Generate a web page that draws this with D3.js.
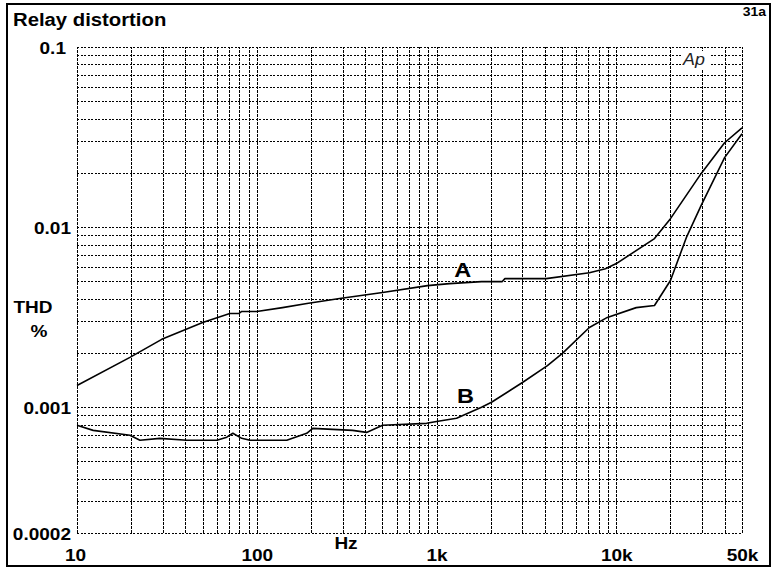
<!DOCTYPE html>
<html>
<head>
<meta charset="utf-8">
<script src="https://cdn.jsdelivr.net/npm/d3@7"></script>
<style>
  html, body { margin: 0; padding: 0; background: #fff; }
  svg { display: block; }
</style>
</head>
<body>
<svg id="chart" width="775" height="567"></svg>
<script>
// ---- data ----
const freqA = [10, 19.7, 29.6, 50, 70.8, 79.4, 82.5, 100, 139, 190, 289, 501, 891, 1180, 1780, 2320, 2400, 4070, 7080, 8700, 10000, 16300, 20000, 29600, 40000, 50000];
const thdA  = [0.00132, 0.00189, 0.00238, 0.00295, 0.00331, 0.00331, 0.0034, 0.0034, 0.00357, 0.00376, 0.00401, 0.00433, 0.00473, 0.00485, 0.00498, 0.00498, 0.00517, 0.00517, 0.00558, 0.00587, 0.00627, 0.00863, 0.01114, 0.0198, 0.0294, 0.0356];
const freqB = [10, 12.3, 19.7, 22.4, 28.9, 40.8, 60, 68.1, 73.6, 82.5, 91.6, 146.8, 189.6, 204.8, 341, 408, 501, 880, 1000, 1292, 1778, 2021, 3004, 4137, 5012, 7079, 8913, 12900, 16300, 20000, 24500, 29600, 40000, 50000];
const thdB  = [0.000793, 0.000743, 0.000698, 0.000655, 0.000671, 0.000655, 0.000655, 0.000681, 0.000716, 0.000671, 0.000655, 0.000655, 0.000716, 0.000762, 0.000743, 0.000724, 0.000793, 0.000813, 0.000833, 0.000867, 0.000998, 0.001064, 0.00137, 0.0017, 0.00199, 0.00277, 0.00315, 0.00357, 0.00367, 0.00505, 0.00873, 0.01315, 0.0243, 0.033];
const xTickValues = [10, 100, 1000, 10000, 50000];
const xTickLabels = ["10", "100", "1k", "10k", "50k"];
const yTickValues = [0.1, 0.01, 0.001, 0.0002];
const yTickLabels = ["0.1", "0.01", "0.001", "0.0002"];
const seriesNames = ["A", "B"];

// ---- layout ----
const L = 77, R = 742, T = 47, B = 533;
const svg = d3.select("#chart");
const FONT = "'Liberation Sans', Arial, Helvetica, sans-serif";
const SX = 1.12;

const x = d3.scaleLog().domain([10, 50000]).range([L, R]);
const y = d3.scaleLog().domain([0.0002, 0.1]).range([B, T]);

// outer frame
svg.append("rect").attr("x", 7).attr("y", 4).attr("width", 763).attr("height", 562)
  .attr("fill", "#fff").attr("stroke", "#000").attr("stroke-width", 2);

// grid values
const xGrid = [];
[10, 100, 1000, 10000].forEach(d => { for (let k = 1; k <= 9; k++) { const v = d * k; if (v <= 50000) xGrid.push(v); } });
xGrid.push(50000);
const yGrid = [];
[0.0001, 0.001, 0.01].forEach(d => { for (let k = 1; k <= 9; k++) { const v = +(d * k).toPrecision(3); if (v >= 0.0002) yGrid.push(v); } });
yGrid.push(0.1);

// horizontal grid via axis
const gy = svg.append("g").attr("transform", `translate(${L},0)`)
  .call(d3.axisLeft(y).tickValues(yGrid).tickSize(-(R - L)).tickFormat(""));
gy.select(".domain").remove();
gy.selectAll(".tick line").attr("stroke", "#000").attr("stroke-width", 1)
  .attr("stroke-dasharray", "2,1.5").attr("shape-rendering", "crispEdges");

// vertical grid via axis
const gx = svg.append("g").attr("transform", `translate(0,${B})`)
  .call(d3.axisBottom(x).tickValues(xGrid).tickSize(-(B - T)).tickFormat(""));
gx.select(".domain").remove();
gx.selectAll(".tick line").attr("stroke", "#000").attr("stroke-width", 1)
  .attr("stroke-dasharray", "3,1").attr("shape-rendering", "crispEdges");

// y tick labels
const ay = svg.append("g").attr("transform", `translate(${L},0)`)
  .call(d3.axisLeft(y).tickValues(yTickValues).tickSize(0).tickPadding(0)
    .tickFormat((d, i) => yTickLabels[i]));
ay.select(".domain").remove();
ay.selectAll(".tick text")
  .attr("x", 0).attr("dy", "0.36em")
  .attr("transform", d => `translate(${d === 0.1 ? -11 : -6},0) scale(${SX},1)`)
  .attr("font-family", FONT).attr("font-weight", "bold").attr("font-size", 17).attr("fill", "#000");

// x tick labels
const ax = svg.append("g").attr("transform", `translate(0,${B})`)
  .call(d3.axisBottom(x).tickValues(xTickValues).tickSize(0).tickPadding(0)
    .tickFormat((d, i) => xTickLabels[i]));
ax.select(".domain").remove();
ax.selectAll(".tick text")
  .attr("y", 0).attr("dy", 0)
  .attr("transform", `translate(0,28) scale(${SX},1)`)
  .attr("font-family", FONT).attr("font-weight", "bold").attr("font-size", 17).attr("fill", "#000");
ax.selectAll(".tick").filter(d => d === 10).select("text").attr("transform", `translate(-2,28) scale(${SX},1)`);

function label(txt, px, py, size, anchor, opts = {}) {
  return svg.append("text")
    .attr("transform", `translate(${px},${py}) scale(${opts.sx || SX},1)`)
    .attr("text-anchor", anchor)
    .attr("font-family", FONT)
    .attr("font-weight", opts.weight || "bold")
    .attr("font-style", opts.style || "normal")
    .attr("font-size", size)
    .attr("fill", opts.fill || "#000")
    .text(txt);
}

label("Relay distortion", 13, 26, 17.5, "start", { sx: 1.16 });
label("31a", 766, 16, 12.5, "end");
label("Hz", 346, 549, 17, "middle");
label("THD", 33, 313, 17, "middle");
label("%", 39, 337, 17, "middle");

// Ap logo (white background so the grid does not run through it)
svg.append("rect").attr("x", 681).attr("y", 51).attr("width", 28).attr("height", 19).attr("fill", "#fff");
label("Ap", 694, 65, 17, "middle", { weight: "normal", style: "italic", fill: "#222", sx: 1.05 });

// curves
const line = d3.line().x(d => x(d[0])).y(d => y(d[1]));
const dataA = freqA.map((f, i) => [f, thdA[i]]);
const dataB = freqB.map((f, i) => [f, thdB[i]]);
[dataA, dataB].forEach(dat => {
  svg.append("path").datum(dat).attr("d", line)
    .attr("fill", "none").attr("stroke", "#000").attr("stroke-width", 1.6)
    .attr("stroke-linejoin", "round");
});

// series labels
label(seriesNames[0], x(1400), 277, 21, "middle");
label(seriesNames[1], x(1450), 403, 21, "middle");
</script>
</body>
</html>
